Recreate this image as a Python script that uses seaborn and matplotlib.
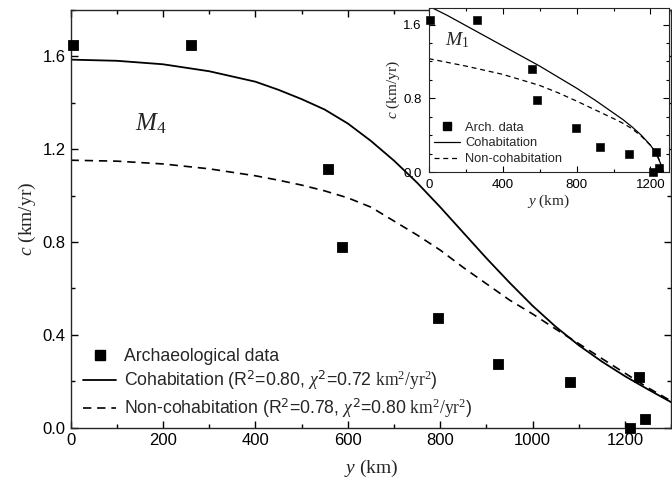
import numpy as np
import pandas as pd
import matplotlib
matplotlib.use('Agg')
import matplotlib.pyplot as plt
from matplotlib.ticker import MultipleLocator, FormatStrFormatter
from matplotlib.lines import Line2D
import seaborn as sns

# archaeological data (y in km, c in km/yr)
arch_y = [6, 260, 557, 588, 796, 925, 1081, 1211, 1230, 1244]
arch_c = [1.647, 1.647, 1.114, 0.78, 0.474, 0.275, 0.199, 0.0, 0.221, 0.039]

# model M4 curves
m4_y = [0, 100, 200, 300, 400, 450, 500, 550, 600, 650, 700, 750, 800, 850, 900, 950, 1000, 1050, 1100, 1150, 1200, 1250, 1300]
m4_cohab = [1.585, 1.58, 1.565, 1.535, 1.49, 1.455, 1.415, 1.37, 1.31, 1.235, 1.15, 1.055, 0.95, 0.84, 0.73, 0.625, 0.525, 0.435, 0.355, 0.285, 0.222, 0.165, 0.11]
m4_noncohab = [1.152, 1.148, 1.136, 1.115, 1.085, 1.066, 1.045, 1.02, 0.99, 0.95, 0.89, 0.83, 0.765, 0.69, 0.62, 0.55, 0.49, 0.425, 0.362, 0.298, 0.235, 0.172, 0.115]

# model M1 curves (inset)
m1_y = [0, 100, 200, 300, 400, 500, 600, 700, 800, 900, 1000, 1050, 1100, 1150, 1200, 1225, 1245, 1260, 1270]
m1_cohab = [1.80, 1.70, 1.59, 1.48, 1.37, 1.26, 1.15, 1.03, 0.91, 0.78, 0.64, 0.57, 0.49, 0.40, 0.29, 0.22, 0.14, 0.06, 0.0]
m1_noncohab = [1.23, 1.19, 1.15, 1.105, 1.06, 1.0, 0.94, 0.86, 0.77, 0.675, 0.58, 0.53, 0.47, 0.39, 0.29, 0.22, 0.14, 0.06, 0.0]

sns.set_style("ticks")
plt.rcParams['font.family'] = ['Liberation Sans', 'DejaVu Sans']
plt.rcParams['mathtext.fontset'] = 'custom'
plt.rcParams['mathtext.rm'] = 'Liberation Serif'
plt.rcParams['mathtext.it'] = 'Liberation Serif:italic'
plt.rcParams['axes.linewidth'] = 1.0
for ax_name in ['xtick', 'ytick']:
    plt.rcParams[ax_name + '.direction'] = 'in'
    plt.rcParams[ax_name + '.color'] = 'black'
plt.rcParams['xtick.top'] = True
plt.rcParams['ytick.right'] = True

arch = pd.DataFrame({'y': arch_y, 'c': arch_c})
m4 = pd.DataFrame({'y': m4_y, 'cohab': m4_cohab, 'noncohab': m4_noncohab})
m1 = pd.DataFrame({'y': m1_y, 'cohab': m1_cohab, 'noncohab': m1_noncohab})

fig = plt.figure(figsize=(6.72, 4.84), dpi=100)
ax = fig.add_axes([0.105, 0.116, 0.894, 0.864])

serif = 'Liberation Serif'
dash_main = (0, (5, 3.5))
dash_inset = (0, (4, 3))

sns.lineplot(data=m4, x='y', y='cohab', ax=ax, color='black', lw=1.3)
sns.lineplot(data=m4, x='y', y='noncohab', ax=ax, color='black', lw=1.2, linestyle=dash_main)
sns.scatterplot(data=arch, x='y', y='c', ax=ax, marker='s', s=55, color='black', edgecolor='black', zorder=5, clip_on=False)

ax.set_xlim(0, 1300)
ax.set_ylim(0, 1.8)
ax.xaxis.set_major_locator(MultipleLocator(200))
ax.xaxis.set_minor_locator(MultipleLocator(100))
ax.yaxis.set_major_locator(MultipleLocator(0.4))
ax.yaxis.set_minor_locator(MultipleLocator(0.2))
ax.yaxis.set_major_formatter(FormatStrFormatter('%.1f'))
ax.tick_params(which='major', length=5, width=1, labelsize=12)
ax.tick_params(which='minor', length=3, width=1)
ax.set_xlabel(r'$y$ (km)', family=serif, fontsize=14, labelpad=7)
ax.set_ylabel(r'$c$ (km/yr)', family=serif, fontsize=14, labelpad=3)
ax.text(140, 1.28, r'$M_4$', fontsize=18)

handles = [
    Line2D([], [], marker='s', color='black', ls='none', markersize=7.5),
    Line2D([], [], color='black', lw=1.3),
    Line2D([], [], color='black', lw=1.2, linestyle=dash_main),
]
labels = [
    'Archaeological data',
    r'Cohabitation (R$^{\mathsf{2}}$=0.80, $\chi^{\mathsf{2}}$=0.72 $\mathrm{km^2/yr^2}$)',
    r'Non-cohabitation (R$^{\mathsf{2}}$=0.78, $\chi^{\mathsf{2}}$=0.80 $\mathrm{km^2/yr^2}$)',
]
ax.legend(handles, labels, loc='lower left', bbox_to_anchor=(0.0, -0.01), frameon=False,
          fontsize=12.7, handlelength=1.9, handletextpad=0.45, labelspacing=0.22, borderaxespad=0.3)

# inset with model M1
axi = fig.add_axes([0.638, 0.6446, 0.3575, 0.3389])
sns.lineplot(data=m1, x='y', y='cohab', ax=axi, color='black', lw=0.9)
sns.lineplot(data=m1, x='y', y='noncohab', ax=axi, color='black', lw=0.9, linestyle=dash_inset)
sns.scatterplot(data=arch, x='y', y='c', ax=axi, marker='s', s=30, color='black', edgecolor='black', zorder=5, clip_on=False)
axi.set_xlim(0, 1300)
axi.set_ylim(0, 1.78)
axi.xaxis.set_major_locator(MultipleLocator(400))
axi.xaxis.set_minor_locator(MultipleLocator(200))
axi.yaxis.set_major_locator(MultipleLocator(0.8))
axi.yaxis.set_minor_locator(MultipleLocator(0.2))
axi.yaxis.set_major_formatter(FormatStrFormatter('%.1f'))
axi.tick_params(which='major', length=4, width=0.8, labelsize=9.5, pad=5)
axi.tick_params(which='minor', length=2.5, width=0.8)
for sp in axi.spines.values():
    sp.set_linewidth(0.8)
axi.set_xlabel(r'$y$ (km)', family=serif, fontsize=11, labelpad=1)
axi.set_ylabel(r'$c$ (km/yr)', family=serif, fontsize=11, labelpad=1)
axi.text(90, 1.38, r'$M_1$', fontsize=14)

handles_i = [
    Line2D([], [], marker='s', color='black', ls='none', markersize=6),
    Line2D([], [], color='black', lw=0.9),
    Line2D([], [], color='black', lw=0.9, linestyle=dash_inset),
]
axi.legend(handles_i, ['Arch. data', 'Cohabitation', 'Non-cohabitation'], loc='lower left',
           bbox_to_anchor=(-0.01, -0.005), frameon=False, fontsize=9.3, handlelength=2.0,
           handletextpad=0.4, labelspacing=0.28, borderaxespad=0.2)

fig.savefig('out.png', dpi=100)
